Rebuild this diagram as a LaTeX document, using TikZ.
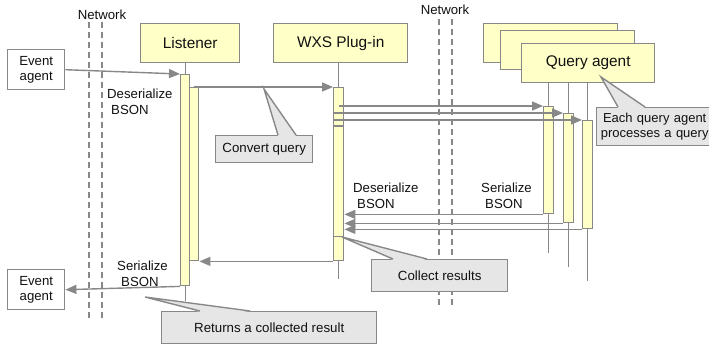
\documentclass[tikz,border=0pt]{standalone}
\usepackage{fontspec}
\setmainfont{Liberation Sans}
\usetikzlibrary{arrows.meta,calc}
\definecolor{ln}{HTML}{888888}
\definecolor{yel}{HTML}{FFFFC8}
\definecolor{cg}{HTML}{E6E6E6}
\definecolor{tx}{HTML}{111111}
\begin{document}
\begin{tikzpicture}[x=1pt,y=-1pt,
  every node/.style={text=tx},
  headbox/.style={draw=ln, fill=yel, line width=1.4pt, inner sep=0pt, anchor=north west,
    font=\fontsize{15.4}{18}\selectfont},
  evbox/.style={draw=ln, fill=white, line width=1.4pt, inner sep=0pt, anchor=north west,
    minimum width=57pt, minimum height=40pt, align=center, font=\fontsize{13.2}{15}\selectfont},
  actbar/.style={draw=ln, fill=yel, line width=1.4pt, inner sep=0pt, anchor=north west},
  life/.style={draw=ln, line width=1.4pt},
  net/.style={draw=ln, line width=1.2pt, dash pattern=on 6pt off 4pt},
  msg/.style={draw=ln, line width=1.4pt, -{Triangle[length=11pt,width=9pt]}},
  cbox/.style={draw=ln, fill=cg, line width=1.4pt, inner sep=0pt, anchor=north west,
    align=center, font=\fontsize{13.3}{15}\selectfont},
  cptr/.style={fill=cg},
  cline/.style={draw=ln, line width=1.4pt},
  lbl/.style={inner sep=0pt, anchor=west, align=left, font=\fontsize{13.2}{16}\selectfont}
]
\useasboundingbox (0,0) rectangle (709,345);

% network lines
\node[inner sep=0pt, font=\fontsize{13.2}{15}\selectfont] (net1) at (102,15) {Network};
\node[inner sep=0pt, font=\fontsize{13.2}{15}\selectfont] (net2) at (445,10) {Network};
\coordinate (n1a) at (89,22);  \coordinate (n1b) at (89,318);
\coordinate (n1c) at (102,22); \coordinate (n1d) at (102,318);
\coordinate (n2a) at (439,19); \coordinate (n2b) at (439,307);
\coordinate (n2c) at (452,19); \coordinate (n2d) at (452,307);
\draw[net] (n1a) -- (n1b);
\draw[net] (n1c) -- (n1d);
\draw[net] (n2a) -- (n2b);
\draw[net] (n2c) -- (n2d);

% heads
\node[headbox, minimum width=99pt, minimum height=39pt] (LB) at (140,23) {Listener};
\node[headbox, minimum width=134pt, minimum height=39pt] (PB) at (273,23) {WXS Plug-in};
\node[headbox, minimum width=134pt, minimum height=39pt] (QB3) at (483,23) {};
\node[headbox, minimum width=134pt, minimum height=39pt] (QB2) at (500,30) {};
\node[headbox, minimum width=133pt, minimum height=39pt] (QA) at (521,43) {Query agent};

% event agents
\node[evbox] (EA1) at (7,49) {Event\\agent};
\node[evbox] (EA2) at (7,269) {Event\\agent};

% activation bars (geometry)
\path (180,74) node[actbar, minimum width=9pt, minimum height=211pt] (L1) {};
\path (189,87) node[actbar, minimum width=9pt, minimum height=173pt] (L2) {};
\path (333,87) node[actbar, minimum width=10pt, minimum height=173pt] (P1) {};
\path (543,106) node[actbar, minimum width=10pt, minimum height=107pt] (Q1) {};
\path (563,113) node[actbar, minimum width=10pt, minimum height=109pt] (Q2) {};
\path (582,120) node[actbar, minimum width=10pt, minimum height=108pt] (Q3) {};

% lifelines
\draw[life] (L1.north |- LB.south) -- (L1.north);
\draw[life] (L1.south) -- ++(0,15);
\draw[life] (P1.north |- PB.south) -- (P1.north);
\draw[life] (P1.south) -- ++(0,18);
\draw[life] (Q1.north |- QA.south) -- (Q1.north);
\draw[life] (Q1.south) -- ++(0,39);
\draw[life] (Q2.north |- QA.south) -- (Q2.north);
\draw[life] (Q2.south) -- ++(0,44);
\draw[life] (Q3.north |- QA.south) -- (Q3.north);
\draw[life] (Q3.south) -- ++(0,52);

% redraw bars on top of lifelines
\node[actbar, minimum width=9pt, minimum height=211pt] at (L1.north west) {};
\node[actbar, minimum width=9pt, minimum height=173pt] at (L2.north west) {};
\node[actbar, minimum width=10pt, minimum height=173pt] at (P1.north west) {};
\node[actbar, minimum width=10pt, minimum height=107pt] at (Q1.north west) {};
\node[actbar, minimum width=10pt, minimum height=109pt] at (Q2.north west) {};
\node[actbar, minimum width=10pt, minimum height=108pt] at (Q3.north west) {};
% inner segments of plug-in bar
\draw[life] ($(P1.north west)+(0,39)$) -- ($(P1.north east)+(0,39)$);
\draw[life] ($(P1.south west)+(0,-25)$) -- ($(P1.south east)+(0,-25)$);

% messages
\draw[msg] (EA1.east) -- (L1.north west);
\draw[msg] (L2.north) -- (P1.north west);
\draw[msg] (P1.center |- Q1.north west) -- (Q1.north west);
\draw[msg] (P1.west |- Q2.north west) -- (Q2.north west);
\draw[msg] (P1.west |- Q3.north west) -- (Q3.north west);
\draw[msg] (Q1.south west) -- (P1.east |- Q1.south west);
\draw[msg] (Q2.south west) -- (P1.east |- Q2.south west);
\draw[msg] (Q3.south west) -- (P1.east |- Q3.south west);
\draw[msg] (P1.south west) -- (L2.south east);
\draw[msg] (L1.south west) -- (EA2.east);

% labels
\node[lbl] (dsL) at (107,101.5) {Deserialize\\\hspace{4pt}BSON};
\node[lbl] (dsP) at (353,195.5) {Deserialize\\\hspace{4pt}BSON};
\node[lbl] (seQ) at (481,195.5) {Serialize\\\hspace{4pt}BSON};
\node[lbl] (seL) at (117,274) {Serialize\\\hspace{4pt}BSON};

% callouts
\coordinate (tCQ) at (264,89);
\coordinate (tEQ) at (601,77);
\coordinate (tCR) at (342,237);
\coordinate (tRR) at (145,297);

\node[cbox, minimum width=97pt, minimum height=27pt] (CQ) at (215,135) {Convert query};
\fill[cptr] (tCQ) -- ($(CQ.north west)+(63,1)$) -- ($(CQ.north west)+(81,1)$) -- cycle;
\draw[cline] ($(CQ.north west)+(63,0)$) -- (tCQ) -- ($(CQ.north west)+(81,0)$);

\node[cbox, minimum width=116pt, minimum height=38pt, font=\fontsize{13}{14.5}\selectfont, text width=114pt] (EQ) at (596,107) {Each query agent\\processes a query};
\fill[cptr] (tEQ) -- ($(EQ.north west)+(22,1)$) -- ($(EQ.north west)+(49,1)$) -- cycle;
\draw[cline] ($(EQ.north west)+(22,0)$) -- (tEQ) -- ($(EQ.north west)+(49,0)$);

\node[cbox, minimum width=136pt, minimum height=32pt] (CR) at (371,259) {Collect results};
\fill[cptr] (tCR) -- ($(CR.north west)+(22,1)$) -- ($(CR.north west)+(56,1)$) -- cycle;
\draw[cline] ($(CR.north west)+(22,0)$) -- (tCR) -- ($(CR.north west)+(56,0)$);

\node[cbox, minimum width=215pt, minimum height=32pt] (RR) at (161,311) {Returns a collected result};
\fill[cptr] (tRR) -- ($(RR.north west)+(39,1)$) -- ($(RR.north west)+(89,1)$) -- cycle;
\draw[cline] ($(RR.north west)+(39,0)$) -- (tRR) -- ($(RR.north west)+(89,0)$);
\end{tikzpicture}
\end{document}
